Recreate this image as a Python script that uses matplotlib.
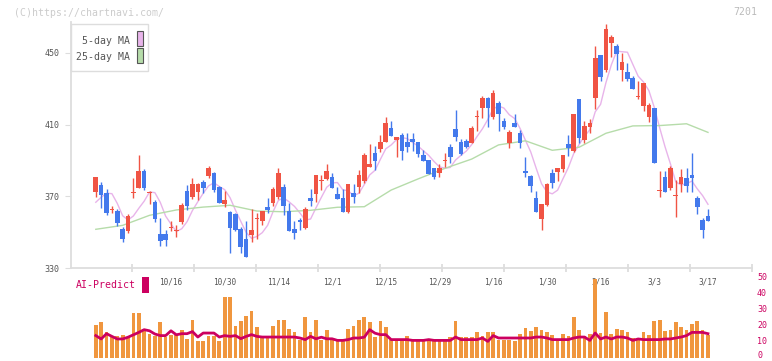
import matplotlib
matplotlib.use('Agg')
import matplotlib.pyplot as plt
from matplotlib.patches import Rectangle
import numpy as np
import pandas as pd

# daily candles (red = close above open)
opens = [372.6, 376.3, 371.7, 362.8, 361.8, 352.0, 350.8, 372.0, 374.8, 384.1,
         372.0, 366.8, 349.0, 349.0, 352.5, 351.2, 355.8, 373.0, 369.8, 372.6,
         378.0, 381.5, 383.0, 375.2, 365.7, 361.4, 360.1, 351.8, 346.2, 348.6,
         357.7, 356.4, 364.3, 366.1, 369.8, 375.0, 361.8, 351.6, 356.8, 352.5,
         369.1, 371.1, 379.0, 379.7, 380.8, 371.3, 369.1, 361.1, 371.7, 375.0,
         378.7, 386.2, 394.4, 396.3, 400.5, 408.3, 401.5, 404.2, 400.5, 401.8,
         400.5, 393.1, 390.3, 385.6, 382.9, 390.1, 397.7, 407.4, 400.2, 400.9,
         400.0, 414.5, 419.5, 424.7, 414.5, 422.3, 412.0, 400.0, 411.1, 405.5,
         384.1, 381.5, 369.2, 357.2, 365.2, 383.2, 383.8, 385.3, 399.2, 395.5,
         424.3, 401.4, 408.9, 424.7, 448.9, 440.5, 455.7, 453.9, 440.5, 439.6,
         435.9, 425.6, 420.6, 414.4, 419.1, 373.0, 381.0, 374.8, 370.2, 376.7,
         380.4, 381.9, 369.2, 356.8, 359.0]
highs = [380.9, 377.8, 373.9, 364.8, 362.8, 352.9, 360.1, 380.4, 393.1, 385.3,
         373.2, 368.0, 357.7, 351.2, 356.2, 353.8, 366.5, 376.3, 380.1, 377.5,
         379.1, 386.9, 383.7, 375.8, 373.0, 362.0, 360.5, 352.7, 356.2, 362.8,
         360.5, 361.8, 368.9, 375.0, 385.6, 376.7, 366.1, 356.2, 357.7, 363.9,
         374.1, 381.9, 381.9, 388.0, 382.9, 375.0, 373.9, 376.9, 376.9, 384.7,
         394.4, 399.2, 398.1, 404.2, 414.4, 412.2, 403.0, 405.2, 405.2, 405.5,
         400.5, 395.9, 390.3, 385.6, 388.0, 394.0, 399.2, 418.2, 401.8, 401.8,
         409.0, 418.2, 426.0, 425.4, 429.4, 423.2, 413.6, 407.0, 415.8, 407.0,
         391.8, 382.0, 372.7, 365.6, 377.3, 385.3, 386.0, 393.1, 404.2, 416.0,
         424.3, 412.0, 413.2, 453.9, 448.9, 466.2, 460.0, 455.0, 449.8, 444.3,
         437.2, 434.4, 433.1, 421.9, 419.5, 384.1, 384.1, 386.9, 379.1, 385.3,
         385.6, 394.0, 370.2, 357.7, 362.8]
lows = [369.8, 363.7, 359.8, 360.7, 353.6, 344.7, 349.7, 368.9, 374.8, 373.5,
        365.7, 355.7, 342.3, 342.3, 350.8, 347.1, 354.6, 362.4, 368.5, 367.9,
        371.7, 380.4, 372.3, 366.0, 363.9, 338.5, 350.6, 338.2, 336.0, 344.7,
        346.2, 353.8, 360.9, 364.6, 368.3, 359.6, 350.8, 346.0, 351.2, 351.6,
        364.8, 366.7, 373.5, 379.1, 374.8, 368.7, 361.4, 360.5, 366.5, 371.7,
        377.3, 386.2, 384.7, 394.9, 400.5, 403.8, 391.8, 390.3, 394.9, 395.3,
        391.8, 389.9, 382.5, 379.7, 380.6, 386.2, 388.8, 400.9, 393.0, 396.8,
        400.0, 406.6, 413.9, 408.9, 413.0, 406.6, 407.6, 396.8, 408.9, 396.8,
        380.6, 372.6, 361.0, 351.2, 364.8, 374.8, 378.7, 383.8, 392.7, 394.9,
        399.9, 399.9, 405.5, 418.7, 434.5, 439.6, 447.9, 440.5, 434.5, 434.5,
        429.7, 424.2, 417.8, 411.7, 388.8, 369.8, 372.6, 373.5, 358.6, 372.6,
        372.6, 372.6, 360.0, 346.6, 356.4]
closes = [380.9, 370.7, 360.9, 362.8, 355.0, 346.4, 359.0, 372.0, 384.1, 374.8,
          372.0, 357.5, 345.0, 345.6, 352.5, 351.2, 365.2, 364.8, 376.9, 376.9,
          374.8, 385.8, 373.5, 366.5, 368.0, 352.5, 351.2, 341.9, 336.0, 351.2,
          357.7, 361.8, 362.4, 373.9, 382.9, 364.6, 350.8, 349.7, 355.8, 362.8,
          367.6, 381.9, 379.0, 384.1, 374.8, 368.7, 361.4, 376.9, 369.8, 381.9,
          393.1, 388.0, 389.9, 400.5, 411.1, 403.8, 403.0, 395.5, 397.7, 400.5,
          393.6, 389.9, 382.5, 380.6, 385.6, 390.1, 391.8, 403.3, 393.6, 397.7,
          408.0, 414.5, 424.7, 419.5, 427.4, 415.8, 408.9, 406.1, 408.9, 400.0,
          382.9, 375.8, 361.1, 365.6, 376.9, 377.6, 386.0, 393.1, 396.8, 416.0,
          402.7, 409.3, 410.8, 447.0, 436.8, 463.4, 458.8, 449.4, 445.1, 435.5,
          429.7, 425.6, 433.1, 421.0, 388.8, 373.0, 372.6, 385.6, 370.2, 380.6,
          375.9, 380.4, 363.9, 351.2, 356.4]

volume = [20.8, 22.3, 16.0, 13.1, 13.5, 14.6, 13.1, 27.9, 27.9, 18.3,
          15.0, 14.0, 22.3, 13.1, 14.6, 14.6, 17.7, 12.1, 24.0, 10.4,
          10.4, 14.0, 14.0, 10.4, 37.9, 37.9, 20.2, 23.3, 26.5, 29.6,
          19.6, 13.1, 13.1, 20.2, 24.0, 24.0, 18.3, 16.0, 11.0, 25.4,
          16.0, 24.0, 11.5, 17.7, 11.5, 11.5, 11.5, 18.3, 20.2, 24.0,
          25.4, 22.3, 13.1, 22.9, 19.6, 11.5, 11.5, 11.5, 14.0, 11.5,
          11.5, 10.4, 11.9, 11.0, 10.4, 10.4, 13.1, 23.3, 13.1, 13.1,
          13.1, 16.0, 14.0, 16.0, 16.0, 11.5, 11.5, 11.5, 10.4, 15.2,
          18.8, 16.7, 19.6, 17.7, 16.0, 14.6, 11.5, 15.2, 14.0, 25.8,
          17.3, 14.0, 15.2, 49.6, 15.6, 29.0, 15.2, 18.3, 17.7, 16.0,
          12.5, 11.5, 16.0, 14.6, 22.9, 24.0, 16.7, 17.7, 22.3, 19.2,
          17.3, 21.5, 22.9, 17.3, 14.6]
ai_predict = [14.0, 11.9, 15.2, 13.5, 11.9, 11.9, 13.0, 14.5, 16.0, 17.7,
              17.0, 15.0, 14.0, 14.0, 17.0, 14.5, 15.2, 15.2, 16.5, 13.1,
              15.6, 15.6, 15.6, 13.1, 14.0, 13.5, 14.0, 12.1, 13.5, 14.6,
              13.5, 13.1, 13.1, 13.1, 13.1, 13.1, 13.1, 13.1, 12.5, 11.5,
              13.5, 12.0, 13.0, 12.0, 12.0, 11.0, 11.0, 11.5, 12.5, 12.5,
              13.0, 17.7, 15.5, 14.6, 14.6, 11.5, 11.5, 11.5, 11.5, 11.0,
              11.0, 11.0, 11.5, 11.0, 11.0, 11.0, 11.0, 13.1, 11.5, 11.5,
              11.5, 11.5, 12.5, 10.4, 14.0, 12.5, 12.5, 12.5, 12.5, 12.5,
              12.5, 12.5, 13.1, 13.1, 12.5, 11.5, 11.5, 11.5, 11.5, 12.5,
              13.1, 13.1, 11.0, 15.6, 11.9, 13.1, 11.9, 13.1, 13.1, 12.5,
              11.0, 11.9, 11.5, 11.5, 11.5, 11.5, 11.9, 11.9, 12.5, 13.1,
              14.0, 16.0, 16.0, 16.0, 15.2]

# first 5-day MA points (need history before the window)
ma5_head = [366.7, 369.5, 371.7, 371.5]
# 25-day MA read every 5 sessions
ma25_idx = [0, 5, 10, 15, 20, 25, 30, 35, 40, 45, 50, 55, 60, 65, 70, 75,
            80, 85, 90, 95, 100, 105, 110, 114]
ma25_val = [351.6, 353.8, 359.4, 362.4, 364.0, 365.0, 361.8, 361.4, 362.2,
            363.9, 364.2, 373.5, 379.7, 385.6, 390.8, 398.7, 401.0, 395.7,
            397.4, 405.2, 409.3, 409.5, 410.5, 405.7]

date_idx = [14, 24, 34, 44, 54, 64, 74, 84, 94, 104, 114]
date_labels = ['10/16', '10/30', '11/14', '12/1', '12/15', '12/29', '1/16',
               '1/30', '2/16', '3/3', '3/17']
price_ticks = [330, 370, 410, 450]
vol_ticks = [0, 10, 20, 30, 40, 50]

RED = '#f05444'
BLUE = '#4379ec'
ORANGE = '#f0963e'
CRIMSON = '#cc0060'
GRID = '#dddddd'
TXT = '#555555'

plt.rcParams['font.family'] = 'DejaVu Sans Mono'

W, H = 772, 361
fig = plt.figure(figsize=(W / 100, H / 100), dpi=100)


def px_box(x0, y0, x1, y1):
    return [x0 / W, 1 - y1 / H, (x1 - x0) / W, (y1 - y0) / H]


# candle i sits at 95.8 + 5.37*i pixels
step, x_first = 5.37, 95.8
xlim = ((71 - x_first) / step, (752 - x_first) / step)

ax = fig.add_axes(px_box(71, 22, 752, 268))
ax2 = fig.add_axes(px_box(71, 273, 752, 358))

n = len(closes)
idx = np.arange(n)
o = np.array(opens)
c = np.array(closes)
up = c >= o
colors = np.where(up, RED, BLUE)

ma5 = pd.Series(closes).rolling(5).mean().to_numpy()
ma5[:4] = ma5_head
ax.plot(idx, ma5, color='#e8b4ea', lw=1, zorder=2)
ax.plot(ma25_idx, ma25_val, color='#b6dcaa', lw=1, zorder=2)

ax.vlines(idx, lows, highs, colors=colors, linewidth=1, zorder=3)
body = np.maximum(np.abs(c - o), 0.55)
bottom = (o + c) / 2 - body / 2
ax.bar(idx, body, bottom=bottom, width=0.86, color=colors, linewidth=0, zorder=4)

ax.set_xlim(*xlim)
ax.set_ylim(330, 450 + 31 / 1.7917)
for s in ['top', 'right']:
    ax.spines[s].set_visible(False)
for s in ['left', 'bottom']:
    ax.spines[s].set_color(GRID)
    ax.spines[s].set_linewidth(1.3)
ax.set_yticks(price_ticks)
ax.tick_params(axis='y', length=4.3, color=GRID, labelcolor=TXT, labelsize=6, pad=4)
tick_px = np.arange(132, 753, 62)
ax.set_xticks((tick_px - x_first) / step)
ax.set_xticklabels([])
ax.tick_params(axis='x', direction='inout', length=6, width=1.3, color=GRID)

# volume + AI-Predict panel
ax2.bar(idx, volume, width=0.69, color=ORANGE, linewidth=0, zorder=2)
ax2.plot(idx, ai_predict, color=CRIMSON, lw=2, zorder=3)
for i, lab in zip(date_idx, date_labels):
    ax2.text(i, 47.3, lab, ha='center', va='center', fontsize=5.6, color=TXT, zorder=1)
ax2.set_xlim(*xlim)
ax2.set_ylim(0, 85 / 1.6)
for s in ax2.spines.values():
    s.set_visible(False)
ax2.set_xticks([])
ax2.set_yticks([])
ax2.patch.set_alpha(0)
# right-hand scale labels (the 0 is lifted a little so it stays inside)
for v in vol_ticks:
    ax2.annotate(str(v), xy=(1, v), xycoords=('axes fraction', 'data'),
                 xytext=(3.6, 1.6 if v == 0 else 0), textcoords='offset points',
                 ha='left', va='center', fontsize=6, color=CRIMSON,
                 annotation_clip=False)

# overlay in pixel coordinates for legend and captions
ov = fig.add_axes([0, 0, 1, 1], zorder=10)
ov.set_xlim(0, W)
ov.set_ylim(H, 0)
ov.axis('off')
ov.patch.set_visible(False)

ov.text(14, 12.5, '(C)https://chartnavi.com/', ha='left', va='center',
        fontsize=7.1, color='#cccccc')
ov.text(757, 12, '7201', ha='right', va='center', fontsize=7.1, color='#bbbbbb')

ov.add_patch(Rectangle((71, 24), 77, 47, fc='white', ec=GRID, lw=1))
ov.text(129.5, 40.5, '5-day MA', ha='right', va='center', fontsize=7.1, color=TXT)
ov.text(129.5, 56.5, '25-day MA', ha='right', va='center', fontsize=7.1, color=TXT)
ov.add_patch(Rectangle((136.5, 31.3), 6, 14.7, fc='#e8b4ea', ec=TXT, lw=0.8))
ov.add_patch(Rectangle((136.5, 48.3), 6, 14.7, fc='#b6dcaa', ec=TXT, lw=0.8))

ov.text(76, 285.5, 'AI-Predict', ha='left', va='center', fontsize=7.1, color=CRIMSON)
ov.add_patch(Rectangle((142, 277), 7, 16, fc=CRIMSON, ec='none'))

fig.savefig('out.png', dpi=100)
